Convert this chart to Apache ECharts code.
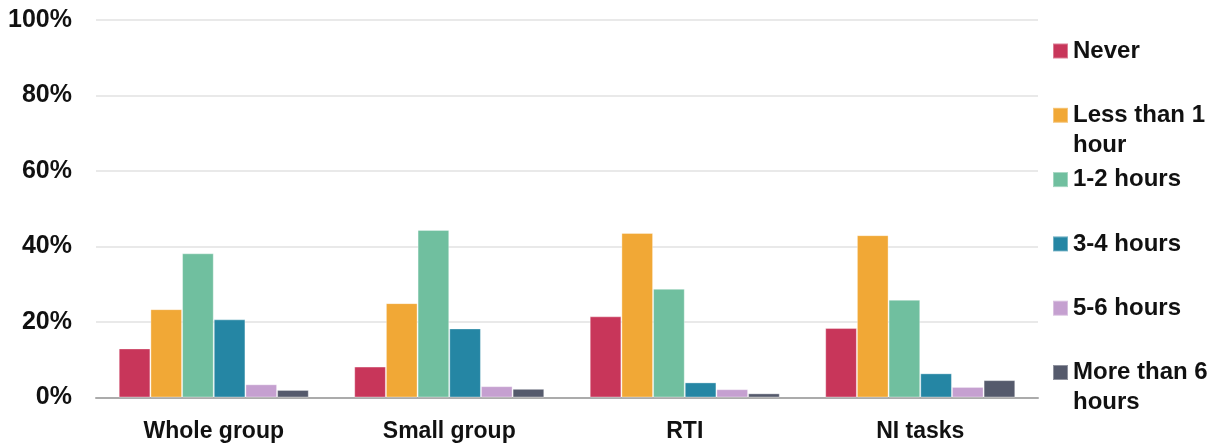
<!DOCTYPE html>
<html>
<head>
<meta charset="utf-8">
<script src="https://cdn.jsdelivr.net/npm/echarts@6/dist/echarts.min.js"></script>
<style>
  html, body { margin: 0; padding: 0; background: #ffffff; }
  #chart { width: 1219px; height: 444px; }
</style>
</head>
<body>
<div id="chart"></div>
<script>
// Share of time spent per setting, by duration band (percent)
const categories = ['Whole group', 'Small group', 'RTI', 'NI tasks'];
const seriesNames = ['Never', 'Less than 1 hour', '1-2 hours', '3-4 hours', '5-6 hours', 'More than 6 hours'];
const never        = [13.0, 8.2, 21.5, 18.4];
const lessThan1    = [23.4, 25.0, 43.6, 43.0];
const oneToTwo     = [38.2, 44.4, 28.8, 25.9];
const threeToFour  = [20.7, 18.3, 4.0, 6.4];
const fiveToSix    = [3.5, 3.0, 2.2, 2.8];
const moreThanSix  = [2.0, 2.3, 1.1, 4.6];
const yTicks = [0, 20, 40, 60, 80, 100];

const seriesValues = [never, lessThan1, oneToTwo, threeToFour, fiveToSix, moreThanSix];
const colors = ['#C8365A', '#F1A836', '#70BF9F', '#2586A4', '#C5A0D0', '#555A6C'];
// Legend labels wrap onto a second line; a blank first line keeps the
// swatch level with the label's first line and every entry the same height
const legendLines = {
  'Never': 'Never\n ',
  'Less than 1 hour': 'Less than 1\nhour',
  '1-2 hours': '1-2 hours\n ',
  '3-4 hours': '3-4 hours\n ',
  '5-6 hours': '5-6 hours\n ',
  'More than 6 hours': 'More than 6\nhours'
};

const FONT = '"Liberation Sans", Arial, sans-serif';
const chart = echarts.init(document.getElementById('chart'), null, { renderer: 'canvas' });

chart.setOption({
  animation: false,
  color: colors,
  grid: { left: 96, right: 181, top: 20, bottom: 46.5, containLabel: false },
  legend: {
    orient: 'vertical',
    left: 1052,
    top: 6,
    padding: 0,
    itemWidth: 15,
    itemHeight: 15,
    itemGap: -25.7,
    icon: 'rect',
    data: seriesNames,
    formatter: name => ' \n' + legendLines[name],
    textStyle: {
      fontFamily: FONT,
      fontWeight: 'bold',
      fontSize: 24,
      color: '#111111',
      lineHeight: 30
    }
  },
  xAxis: {
    type: 'category',
    data: categories,
    axisTick: { show: false },
    axisLine: { show: true, lineStyle: { color: '#ababab', width: 2 } },
    axisLabel: {
      margin: 23,
      fontFamily: FONT,
      fontWeight: 'bold',
      fontSize: 23,
      color: '#111111'
    }
  },
  yAxis: {
    type: 'value',
    min: yTicks[0],
    max: yTicks[yTicks.length - 1],
    interval: yTicks[1] - yTicks[0],
    axisLine: { show: false },
    axisTick: { show: false },
    splitLine: { lineStyle: { color: '#e2e2e2', width: 1.5 } },
    axisLabel: {
      margin: 24,
      fontFamily: FONT,
      fontWeight: 'bold',
      fontSize: 25,
      color: '#111111',
      formatter: v => v + '%'
    }
  },
  series: seriesNames.map((name, i) => ({
    name: name,
    type: 'bar',
    data: seriesValues[i],
    barGap: '0%',
    barCategoryGap: '19.3%',
    itemStyle: { color: colors[i], borderColor: 'rgba(255,255,255,0.35)', borderWidth: 1 }
  }))
});
</script>
</body>
</html>
